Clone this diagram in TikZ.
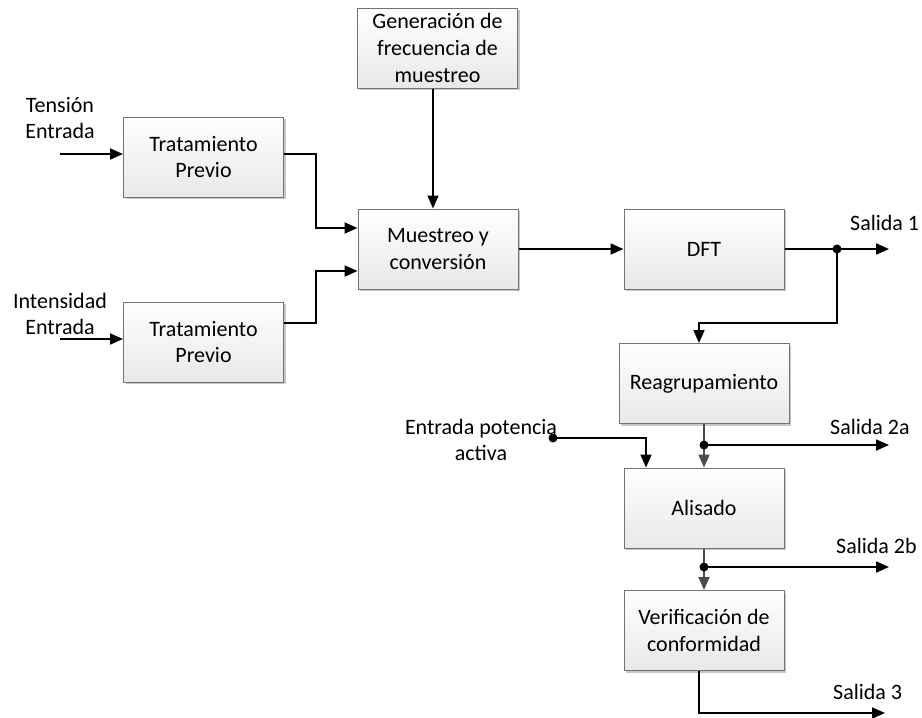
\documentclass[tikz,border=0pt]{standalone}
\usepackage{fontspec}
\setmainfont{Carlito}
\usetikzlibrary{arrows.meta,shadows,calc}
\begin{document}
\begin{tikzpicture}[x=1pt,y=-1pt,
  blk/.style={draw=black!55, line width=1pt, top color=white, bottom color=black!9,
    minimum width=160pt, minimum height=80pt, inner sep=0pt, align=center,
    font=\fontsize{22}{26.7}\selectfont,
    general shadow={fill=black!22, shadow xshift=2pt, shadow yshift=-2pt}},
  lbl/.style={align=center, inner sep=0pt, font=\fontsize{22}{26.5}\selectfont},
  wire/.style={line width=1.8pt, draw=black},
  gwire/.style={line width=1.8pt, draw=black!70},
  arr/.style={-{Triangle[length=13pt,width=11pt]}},
  jdot/.style={circle, fill=black, inner sep=0pt, minimum size=9pt}
]
\useasboundingbox (0,0) rectangle (922,718);

% blocks
\node[blk] (gen) at (437.5,48) {Generación de\\frecuencia de\\muestreo};
\node[blk] (tp1) at (203.5,157) {Tratamiento\\Previo};
\node[blk] (tp2) at (203.5,342) {Tratamiento\\Previo};
\node[blk] (mue) at (438,249) {Muestreo y\\conversión};
\node[blk] (dft) at (704,249) {DFT};
\node[blk, minimum width=170pt] (reag) at (704,383.5) {Reagrupamiento};
\node[blk] (alis) at (704,508) {Alisado};
\node[blk] (ver) at (704,630.5) {Verificación de\\conformidad};

% labels
\node[lbl] (ten) at (60,118) {Tensión\\Entrada};
\node[lbl] (int) at (60,314) {Intensidad\\Entrada};
\node[lbl] (pot) at (481,440) {Entrada potencia\\activa};
\node[lbl, anchor=west] (s1) at (850,223) {Salida 1};
\node[lbl, anchor=west] (s2a) at (830,427) {Salida 2a};
\node[lbl, anchor=west] (s2b) at (836,546) {Salida 2b};
\node[lbl, anchor=west] (s3) at (833,692) {Salida 3};

% coordinates
\coordinate (inT) at (60,154);
\coordinate (inI) at (60,339);
\coordinate (k1) at (316,154);
\coordinate (k2) at (316,323);
\coordinate (j1) at (837,249);
\coordinate (o1) at (889,249);
\coordinate (b1) at (837,323);
\coordinate (j2) at (704,445);
\coordinate (o2) at (889,445);
\coordinate (jp) at (553,438);
\coordinate (j3) at (704,567);
\coordinate (o3) at (889,567);
\coordinate (o4) at (885,713);

% connectors
\draw[wire,arr] (inT) -- (inT -| tp1.west);
\draw[wire,arr] (inI) -- (inI -| tp2.west);
\draw[wire,arr] (k1 -| tp1.east) -- (k1) |- ($(mue.west)+(0,-21)$);
\draw[wire,arr] (k2 -| tp2.east) -- (k2) |- ($(mue.west)+(0,22)$);
\draw[wire,arr] ($(gen.south)+(-4.5,0)$) -- ($(mue.north)+(-5,0)$);
\draw[wire,arr] (mue.east) -- (mue.east -| dft.west);
\draw[wire] (dft.east) -- (j1);
\draw[wire,arr] (j1) -- (o1);
\draw[wire,arr] (j1) -- (b1) -| ($(reag.north)+(-5,0)$);
\draw[gwire] (reag.south) -- (j2);
\draw[gwire,arr] (j2) -- (alis.north);
\draw[wire,arr] (j2) -- (o2);
\draw[wire,arr] (jp) -| ($(alis.north)+(-58,0)$);
\draw[gwire] (alis.south) -- (j3);
\draw[gwire,arr] (j3) -- (ver.north);
\draw[wire,arr] (j3) -- (o3);
\draw[wire,arr] ($(ver.south)+(-5,0)$) |- (o4);

% junction dots
\node[jdot] (d1) at (j1) {};
\node[jdot] (d2) at (j2) {};
\node[jdot] (dp) at (jp) {};
\node[jdot] (d3) at (j3) {};
\end{tikzpicture}
\end{document}
